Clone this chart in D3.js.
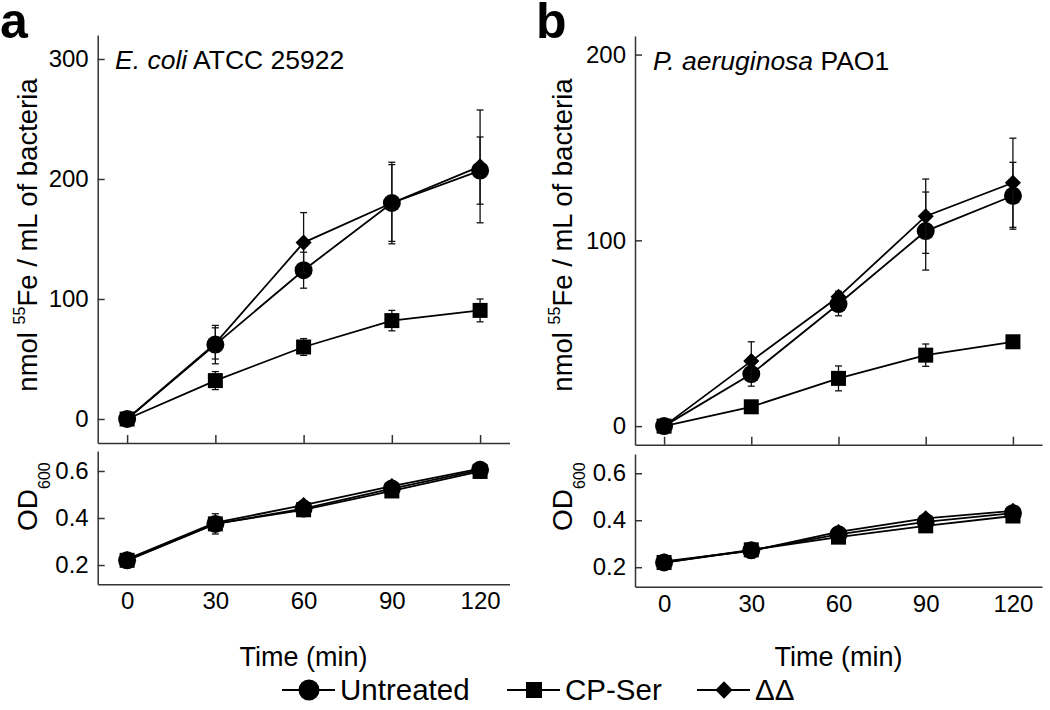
<!DOCTYPE html>
<html>
<head>
<meta charset="utf-8">
<script src="https://cdn.jsdelivr.net/npm/d3@7"></script>
<style>
  body { margin: 0; background: #fff; }
  text { font-family: "Liberation Sans", Arial, sans-serif; fill: #000; }
</style>
</head>
<body>
<div id="chart"></div>
<script>
"use strict";

// time points (min)
var times = [0, 30, 60, 90, 120];
var seriesNames = ["Untreated", "CP-Ser", "\u0394\u0394"];

// panel a : E. coli ATCC 25922, nmol 55Fe / mL
var ecoliFeUntreated = [0, 62, 124, 180, 207];
var ecoliFeUntreatedErr = [0, 16, 15, 34, 28];
var ecoliFeCpSer = [0, 32, 60, 82, 90.5];
var ecoliFeCpSerErr = [0, 7.5, 7, 8.5, 9.5];
var ecoliFeDD = [0, 63, 147, 180, 210.5];
var ecoliFeDDErr = [0, 13, 25, 32, 47];

// panel a : OD600
var ecoliOdUntreated = [0.22, 0.375, 0.44, 0.525, 0.605];
var ecoliOdUntreatedErr = [0.01, 0.043, 0.01, 0.01, 0.01];
var ecoliOdCpSer = [0.22, 0.375, 0.435, 0.515, 0.598];
var ecoliOdCpSerErr = [0.01, 0.02, 0.01, 0.01, 0.01];
var ecoliOdDD = [0.225, 0.38, 0.455, 0.536, 0.61];
var ecoliOdDDErr = [0.01, 0.02, 0.01, 0.01, 0.01];

// panel b : P. aeruginosa PAO1, nmol 55Fe / mL
var paFeUntreated = [0, 28, 65.7, 105, 124];
var paFeUntreatedErr = [0, 6.5, 6.3, 21, 18];
var paFeCpSer = [0, 10.4, 25.7, 38.2, 45.4];
var paFeCpSerErr = [0, 1.5, 6.7, 6, 2];
var paFeDD = [0, 35, 69.6, 113, 131];
var paFeDDErr = [0, 10.4, 3, 20, 24];

// panel b : OD600
var paOdUntreated = [0.22, 0.272, 0.34, 0.393, 0.43];
var paOdCpSer = [0.22, 0.274, 0.328, 0.376, 0.418];
var paOdDD = [0.225, 0.27, 0.35, 0.408, 0.44];
var paOdErr = [0.01, 0.01, 0.01, 0.01, 0.01];

// tick values
var xTicks = [0, 30, 60, 90, 120];
var feTicksA = [0, 100, 200, 300];
var feTicksB = [0, 100, 200];
var odTicks = [0.2, 0.4, 0.6];

var W = 1050, H = 710;
var svg = d3.select("#chart").append("svg")
  .attr("width", W).attr("height", H);

// marker shapes for the three series
var shapes = [
  d3.symbol().type(d3.symbolCircle).size(Math.PI * 9 * 9),
  d3.symbol().type(d3.symbolSquare).size(15 * 15),
  d3.symbol().type(d3.symbolDiamond2).size(165)
];

function pack(vals, errs) {
  return times.map(function(t, i) { return { t: t, v: vals[i], e: errs[i] }; });
}

var panels = [
  {
    letter: "a", letterX: 0,
    title: ["E. coli", " ATCC 25922"], titleX: 115, titleY: 69,
    xRange: [97.7, 509.5],
    topRange: [443, 35], topDomain: [-20, 320], topTicks: feTicksA,
    botRange: [584.3, 451], botDomain: [0.118, 0.685],
    labelX: 37,
    fe: [pack(ecoliFeUntreated, ecoliFeUntreatedErr), pack(ecoliFeCpSer, ecoliFeCpSerErr), pack(ecoliFeDD, ecoliFeDDErr)],
    od: [pack(ecoliOdUntreated, ecoliOdUntreatedErr), pack(ecoliOdCpSer, ecoliOdCpSerErr), pack(ecoliOdDD, ecoliOdDDErr)]
  },
  {
    letter: "b", letterX: 536,
    title: ["P. aeruginosa", " PAO1"], titleX: 653, titleY: 70,
    xRange: [635, 1042],
    topRange: [444.7, 36], topDomain: [-10, 210], topTicks: feTicksB,
    botRange: [586.7, 454], botDomain: [0.117, 0.682],
    labelX: 572,
    fe: [pack(paFeUntreated, paFeUntreatedErr), pack(paFeCpSer, paFeCpSerErr), pack(paFeDD, paFeDDErr)],
    od: [pack(paOdUntreated, paOdErr), pack(paOdCpSer, paOdErr), pack(paOdDD, paOdErr)]
  }
];

function drawSeries(g, data, x, y, k) {
  var line = d3.line().x(d => x(d.t)).y(d => y(d.v));
  g.append("path")
    .datum(data)
    .attr("d", line)
    .attr("fill", "none")
    .attr("stroke", "#000")
    .attr("stroke-width", 1.8);

  var eb = g.append("g").attr("stroke", "#111").attr("stroke-width", 1.3);
  data.filter(d => d.e > 0).forEach(function(d) {
    var cx = x(d.t), y1 = y(d.v + d.e), y2 = y(d.v - d.e);
    eb.append("line").attr("x1", cx).attr("x2", cx).attr("y1", y1).attr("y2", y2);
    eb.append("line").attr("x1", cx - 3.5).attr("x2", cx + 3.5).attr("y1", y1).attr("y2", y1);
    eb.append("line").attr("x1", cx - 3.5).attr("x2", cx + 3.5).attr("y1", y2).attr("y2", y2);
  });

  g.append("g").selectAll("path")
    .data(data)
    .join("path")
      .attr("transform", d => "translate(" + x(d.t) + "," + y(d.v) + ")")
      .attr("d", shapes[k])
      .attr("fill", "#000");
}

panels.forEach(function(p) {
  var x = d3.scaleLinear().domain([-10, 130]).range(p.xRange);
  var yTop = d3.scaleLinear().domain(p.topDomain).range(p.topRange);
  var yBot = d3.scaleLinear().domain(p.botDomain).range(p.botRange);
  var g = svg.append("g");

  // panel letter
  g.append("text")
    .attr("x", p.letterX).attr("y", 38)
    .style("font-size", "50px").style("font-weight", "bold")
    .text(p.letter);

  // top axes
  g.append("g")
    .attr("transform", "translate(" + p.xRange[0] + ",0)")
    .call(d3.axisLeft(yTop).tickValues(p.topTicks).tickSizeInner(-7).tickSizeOuter(0).tickPadding(9));
  g.append("g")
    .attr("transform", "translate(0," + p.topRange[0] + ")")
    .call(d3.axisBottom(x).tickValues(xTicks).tickSizeInner(-8).tickSizeOuter(0).tickFormat(""));

  // bottom axes
  g.append("g")
    .attr("transform", "translate(" + p.xRange[0] + ",0)")
    .call(d3.axisLeft(yBot).tickValues(odTicks).tickFormat(d3.format(".1f")).tickSizeInner(-7).tickSizeOuter(0).tickPadding(9));
  g.append("g")
    .attr("transform", "translate(0," + p.botRange[0] + ")")
    .call(d3.axisBottom(x).tickValues(xTicks).tickSize(0).tickPadding(8));

  g.selectAll(".domain, .tick line").attr("stroke", "#333").attr("stroke-width", 1.5);
  g.selectAll(".tick text")
    .style("font-size", "24px")
    .style("font-family", "'Liberation Sans', Arial, sans-serif")
    .attr("fill", "#000");

  // title
  var t = g.append("text")
    .attr("x", p.titleX).attr("y", p.titleY)
    .style("font-size", "26.5px");
  t.append("tspan").style("font-style", "italic").text(p.title[0]);
  t.append("tspan").text(p.title[1]);

  // y labels
  var yl = g.append("text")
    .attr("transform", "translate(" + p.labelX + "," + 235 + ") rotate(-90)")
    .attr("text-anchor", "middle")
    .style("font-size", "27.5px");
  yl.append("tspan").text("nmol ");
  yl.append("tspan").attr("dy", -12).style("font-size", "16px").text("55");
  yl.append("tspan").attr("dy", 12).text("Fe / mL of bacteria");

  var ol = g.append("text")
    .attr("transform", "translate(" + p.labelX + "," + 531 + ") rotate(-90)")
    .style("font-size", "28px");
  ol.append("tspan").text("OD");
  ol.append("tspan").attr("dy", 13).style("font-size", "16px").text("600");

  // x label
  g.append("text")
    .attr("x", x(60)).attr("y", 666)
    .attr("text-anchor", "middle")
    .style("font-size", "27px")
    .text("Time (min)");

  // series
  p.fe.forEach(function(s, k) { drawSeries(g, s, x, yTop, k); });
  p.od.forEach(function(s, k) { drawSeries(g, s, x, yBot, k); });
});

// legend
var legendX = [282, 507, 697];
var legendY = 690;
var legend = svg.append("g");
seriesNames.forEach(function(name, k) {
  var lx = legendX[k];
  legend.append("line")
    .attr("x1", lx).attr("x2", lx + 53)
    .attr("y1", legendY).attr("y2", legendY)
    .attr("stroke", "#000").attr("stroke-width", 1.8);
  legend.append("path")
    .attr("transform", "translate(" + (lx + 27) + "," + legendY + ")")
    .attr("d", d3.symbol().type([d3.symbolCircle, d3.symbolSquare, d3.symbolDiamond2][k])
      .size([Math.PI * 10.5 * 10.5, 16 * 16, 190][k]))
    .attr("fill", "#000");
  legend.append("text")
    .attr("x", lx + 58).attr("y", legendY + 10)
    .style("font-size", "29.5px")
    .text(name);
});
</script>
</body>
</html>
